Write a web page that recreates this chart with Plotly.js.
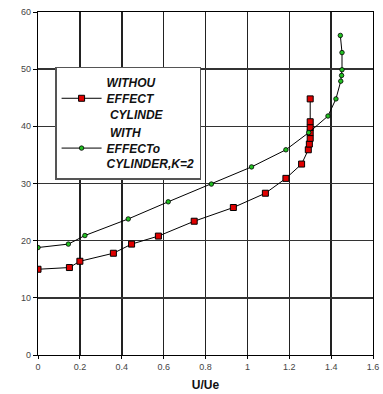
<!DOCTYPE html>
<html>
<head>
<meta charset="utf-8">
<script src="https://cdn.plot.ly/plotly-3.0.1.min.js"></script>
<style>
  html, body { margin: 0; padding: 0; background: #fff; }
  #chart { width: 383px; height: 394px; }
</style>
</head>
<body>
<div id="chart"></div>
<script>
// Velocity profile without the cylinder effect
const uWithout = [0, 0.15, 0.2, 0.36, 0.447, 0.575, 0.746, 0.933, 1.086, 1.184, 1.259, 1.291, 1.296, 1.3, 1.3, 1.3, 1.3, 1.3];
const yWithout = [15, 15.3, 16.4, 17.8, 19.4, 20.8, 23.4, 25.8, 28.3, 30.9, 33.4, 35.9, 36.9, 37.9, 38.9, 39.8, 40.8, 44.8];

// Velocity profile with the cylinder effect, K = 2
const uWith = [0, 0.145, 0.224, 0.431, 0.622, 0.828, 1.02, 1.184, 1.293, 1.385, 1.423, 1.446, 1.45, 1.452, 1.452, 1.444];
const yWith = [18.8, 19.4, 20.9, 23.8, 26.8, 29.9, 32.9, 35.9, 38.9, 41.8, 44.8, 47.9, 48.9, 49.9, 52.9, 55.9];

const nameWithout = '<b><i>WITHOU<br>EFFECT<br> CYLINDE</i></b>';
const nameWith = '<b><i> WITH<br>EFFECTo<br>CYLINDER,K=2</i></b>';

const xTicks = [0, 0.2, 0.4, 0.6, 0.8, 1, 1.2, 1.4, 1.6];
const yTicks = [0, 10, 20, 30, 40, 50, 60];

const traces = [
  {
    x: uWithout, y: yWithout, name: nameWithout,
    type: 'scatter', mode: 'lines+markers',
    line: { color: '#000', width: 1 },
    marker: { symbol: 'square', size: 6, color: '#e00000', line: { color: '#000', width: 1 } }
  },
  {
    x: uWith, y: yWith, name: nameWith,
    type: 'scatter', mode: 'lines+markers',
    line: { color: '#000', width: 1 },
    marker: { symbol: 'circle', size: 4.5, color: '#22c022', line: { color: '#000', width: 0.8 } }
  }
];

const layout = {
  width: 383, height: 394,
  margin: { l: 38, r: 10, t: 12, b: 39 },
  paper_bgcolor: '#fff', plot_bgcolor: '#fff',
  font: { family: 'Arial, "Liberation Sans", sans-serif', color: '#222' },
  showlegend: true,
  legend: {
    x: 0.051, y: 0.84, xanchor: 'left', yanchor: 'top',
    bgcolor: '#fff', bordercolor: '#555', borderwidth: 1.5,
    font: { size: 12, color: '#111' },
    itemwidth: 40, tracegroupgap: 2
  },
  xaxis: {
    range: [0, 1.6], tickvals: xTicks, ticktext: xTicks.map(String),
    showgrid: true, gridcolor: '#222', gridwidth: 1.5,
    showline: true, linecolor: '#000', linewidth: 1.3, mirror: true,
    ticks: 'outside', ticklen: 3, tickcolor: '#000',
    tickfont: { size: 9, color: '#444' },
    zeroline: false,
    title: { text: '<b>U/Ue</b>', font: { size: 12, color: '#111' }, standoff: 9 }
  },
  yaxis: {
    range: [0, 60], tickvals: yTicks,
    showgrid: true, gridcolor: '#333', gridwidth: 1.6,
    showline: true, linecolor: '#000', linewidth: 1.3, mirror: true,
    ticks: 'outside', ticklen: 4, tickcolor: '#000',
    tickfont: { size: 9, color: '#444' },
    zeroline: false
  }
};

Plotly.newPlot('chart', traces, layout, { staticPlot: true, displayModeBar: false });
</script>
</body>
</html>
